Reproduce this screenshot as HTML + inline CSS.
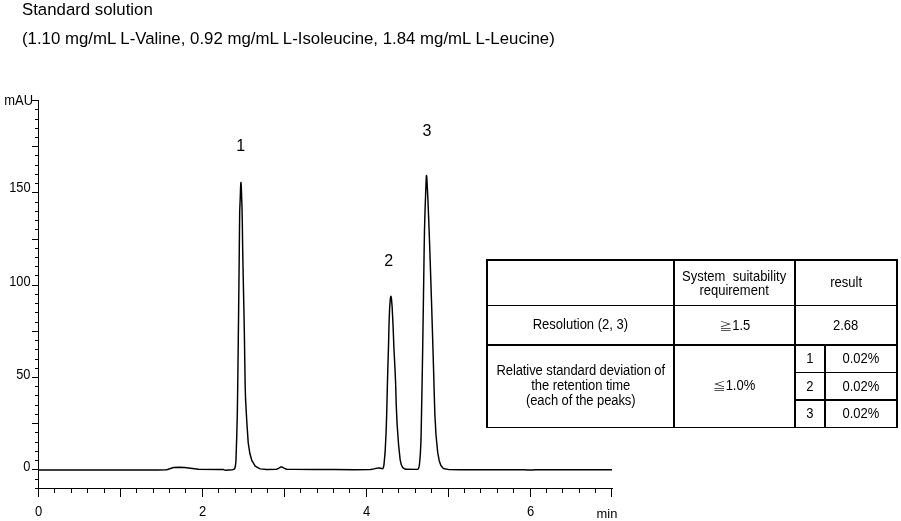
<!DOCTYPE html>
<html lang="en">
<head>
<meta charset="utf-8">
<title>Standard solution chromatogram</title>
<style>
html,body{margin:0;padding:0;background:#fff;}
body{width:901px;height:521px;position:relative;overflow:hidden;font-family:"Liberation Sans","Noto Sans CJK JP",sans-serif;color:#000;}
.title{position:absolute;left:21.6px;white-space:nowrap;font-size:16.3px;transform:scaleX(1.0317);line-height:20px;margin:0;font-weight:normal;transform-origin:0 0;}
#t1{top:-1px;}
#t2{top:28.1px;}
svg{position:absolute;left:0;top:0;}
svg text{font-family:"Liberation Sans","Noto Sans CJK JP",sans-serif;font-size:13.33px;fill:#000;}
svg text.pk{font-size:16px;}
svg text.yl{font-size:14px;}
table{position:absolute;left:486px;top:259px;border-collapse:separate;border-spacing:0;border-top:2px solid #000;border-left:2px solid #000;font-size:14px;line-height:15px;table-layout:fixed;width:412px;}
td,th{padding:0;margin:0;text-align:center;vertical-align:middle;font-weight:normal;border-right:2px solid #000;border-bottom:2px solid #000;box-sizing:content-box;white-space:nowrap;}
.b1{border-bottom-width:1px;}
.sym{color:#222;display:inline-block;transform:scaleY(0.743);transform-origin:50% 72%;}
.u{position:relative;top:-1px;display:inline-block;transform:scaleX(0.9286);}
</style>
</head>
<body>
<h1 class="title" id="t1">Standard solution</h1>
<p class="title" id="t2">(1.10 mg/mL L-Valine, 0.92 mg/mL L-Isoleucine, 1.84 mg/mL L-Leucine)</p>
<svg width="901" height="521" viewBox="0 0 901 521">
<g fill="#000" shape-rendering="crispEdges"><rect x="38" y="100" width="1" height="389"/><rect x="35" y="488" width="578" height="1"/><rect x="32" y="100" width="6" height="1"/><rect x="35" y="109" width="3" height="1"/><rect x="35" y="119" width="3" height="1"/><rect x="35" y="128" width="3" height="1"/><rect x="35" y="137" width="3" height="1"/><rect x="32" y="146" width="6" height="1"/><rect x="35" y="155" width="3" height="1"/><rect x="35" y="165" width="3" height="1"/><rect x="35" y="174" width="3" height="1"/><rect x="35" y="183" width="3" height="1"/><rect x="32" y="192" width="6" height="1"/><rect x="35" y="202" width="3" height="1"/><rect x="35" y="211" width="3" height="1"/><rect x="35" y="220" width="3" height="1"/><rect x="35" y="229" width="3" height="1"/><rect x="32" y="239" width="6" height="1"/><rect x="35" y="248" width="3" height="1"/><rect x="35" y="257" width="3" height="1"/><rect x="35" y="266" width="3" height="1"/><rect x="35" y="275" width="3" height="1"/><rect x="32" y="285" width="6" height="1"/><rect x="35" y="294" width="3" height="1"/><rect x="35" y="303" width="3" height="1"/><rect x="35" y="312" width="3" height="1"/><rect x="35" y="322" width="3" height="1"/><rect x="32" y="331" width="6" height="1"/><rect x="35" y="340" width="3" height="1"/><rect x="35" y="349" width="3" height="1"/><rect x="35" y="359" width="3" height="1"/><rect x="35" y="368" width="3" height="1"/><rect x="32" y="377" width="6" height="1"/><rect x="35" y="386" width="3" height="1"/><rect x="35" y="395" width="3" height="1"/><rect x="35" y="405" width="3" height="1"/><rect x="35" y="414" width="3" height="1"/><rect x="32" y="423" width="6" height="1"/><rect x="35" y="432" width="3" height="1"/><rect x="35" y="442" width="3" height="1"/><rect x="35" y="451" width="3" height="1"/><rect x="35" y="460" width="3" height="1"/><rect x="32" y="469" width="6" height="1"/><rect x="35" y="479" width="3" height="1"/><rect x="38" y="489" width="1" height="8"/><rect x="54" y="489" width="1" height="4"/><rect x="71" y="489" width="1" height="4"/><rect x="87" y="489" width="1" height="4"/><rect x="104" y="489" width="1" height="4"/><rect x="120" y="489" width="1" height="8"/><rect x="136" y="489" width="1" height="4"/><rect x="153" y="489" width="1" height="4"/><rect x="169" y="489" width="1" height="4"/><rect x="185" y="489" width="1" height="4"/><rect x="202" y="489" width="1" height="8"/><rect x="218" y="489" width="1" height="4"/><rect x="235" y="489" width="1" height="4"/><rect x="251" y="489" width="1" height="4"/><rect x="267" y="489" width="1" height="4"/><rect x="284" y="489" width="1" height="8"/><rect x="300" y="489" width="1" height="4"/><rect x="317" y="489" width="1" height="4"/><rect x="333" y="489" width="1" height="4"/><rect x="349" y="489" width="1" height="4"/><rect x="366" y="489" width="1" height="8"/><rect x="382" y="489" width="1" height="4"/><rect x="398" y="489" width="1" height="4"/><rect x="415" y="489" width="1" height="4"/><rect x="431" y="489" width="1" height="4"/><rect x="448" y="489" width="1" height="8"/><rect x="464" y="489" width="1" height="4"/><rect x="480" y="489" width="1" height="4"/><rect x="497" y="489" width="1" height="4"/><rect x="513" y="489" width="1" height="4"/><rect x="530" y="489" width="1" height="8"/><rect x="546" y="489" width="1" height="4"/><rect x="562" y="489" width="1" height="4"/><rect x="579" y="489" width="1" height="4"/><rect x="595" y="489" width="1" height="4"/><rect x="611" y="489" width="1" height="8"/></g>
<path d="M38.00 469.90 L62.00 469.90 L86.00 469.90 L110.00 469.90 L134.00 469.90 L158.00 469.90 L166.00 469.76 L167.50 469.45 L173.50 467.55 L179.00 467.20 L184.50 467.41 L198.50 469.23 L218.50 469.43 L223.00 469.50 L223.50 469.58 L225.00 470.13 L225.50 470.20 L232.50 469.67 L234.00 469.30 L234.60 468.80 L234.90 468.14 L235.40 465.97 L235.80 462.64 L236.00 459.54 L236.70 437.60 L237.30 415.02 L237.70 388.10 L238.00 363.86 L238.30 338.57 L238.60 312.75 L238.90 286.43 L239.20 259.29 L239.50 227.79 L239.70 211.00 L240.30 196.50 L240.60 187.00 L240.80 183.46 L240.90 182.45 L241.00 182.45 L241.30 187.00 L242.00 207.50 L242.30 222.04 L242.60 243.65 L243.00 266.31 L243.50 290.64 L244.00 314.47 L244.40 335.78 L244.80 362.69 L245.20 387.19 L245.60 399.90 L246.80 421.82 L248.20 442.62 L249.80 453.25 L251.90 460.73 L255.20 466.01 L260.10 468.89 L266.50 469.48 L276.00 469.39 L276.50 469.30 L278.50 468.40 L280.50 467.16 L281.00 466.96 L281.50 466.90 L282.00 467.02 L282.50 467.25 L284.00 468.16 L286.00 469.00 L287.00 469.27 L294.00 469.38 L314.00 469.40 L334.00 469.41 L354.00 469.66 L370.50 469.48 L372.00 469.34 L376.00 468.35 L378.50 468.03 L379.50 468.01 L382.60 468.70 L382.80 468.60 L383.40 467.50 L384.00 464.50 L385.10 452.17 L386.10 432.42 L386.80 410.00 L387.30 388.32 L387.90 366.38 L388.50 346.20 L389.00 324.93 L389.60 308.70 L390.30 299.13 L390.70 296.74 L390.80 296.42 L390.90 296.30 L391.00 296.42 L391.40 298.30 L392.10 306.07 L393.10 326.72 L393.90 347.70 L395.00 369.02 L395.60 382.80 L396.20 404.04 L397.10 424.12 L398.60 445.01 L400.10 459.36 L401.30 464.79 L402.70 467.68 L405.50 469.31 L417.60 469.40 L418.00 469.13 L418.60 468.20 L419.00 466.96 L419.50 464.22 L420.40 453.08 L421.00 439.90 L421.50 415.00 L421.90 393.87 L422.30 371.68 L422.70 347.69 L423.10 321.52 L423.50 295.00 L423.80 274.11 L424.10 252.83 L424.50 230.00 L425.10 208.61 L425.90 186.53 L426.30 177.08 L426.40 175.92 L426.50 175.50 L426.60 175.73 L426.80 177.44 L427.90 199.16 L428.70 219.17 L429.50 241.03 L430.20 261.38 L430.90 282.64 L431.60 304.38 L432.30 326.88 L433.00 349.99 L433.60 370.56 L434.20 392.85 L434.90 415.00 L436.00 434.98 L437.70 452.40 L439.20 460.74 L440.90 465.58 L443.40 468.44 L449.00 469.65 L460.00 469.80 L472.00 469.78 L480.00 469.60 L488.00 469.78 L508.00 469.80 L524.00 469.80 L528.00 469.99 L532.00 469.99 L536.00 469.80 L560.00 469.80 L584.00 469.80 L608.00 469.80 L612.00 469.80" fill="none" stroke="#000" stroke-width="1.45" stroke-linejoin="round" stroke-linecap="butt"/>
<text class="yl" transform="translate(4.3 104.8) scale(0.925 1)">mAU</text>
<text class="yl" transform="translate(30.5 192.1) scale(0.915 1)" text-anchor="end">150</text><text class="yl" transform="translate(30.5 285.8) scale(0.915 1)" text-anchor="end">100</text><text class="yl" transform="translate(30.5 378.8) scale(0.915 1)" text-anchor="end">50</text><text class="yl" transform="translate(30.5 470.8) scale(0.915 1)" text-anchor="end">0</text>
<text class="yl" transform="translate(38.6 515.7) scale(0.93 1)" text-anchor="middle">0</text><text class="yl" transform="translate(202.6 515.7) scale(0.93 1)" text-anchor="middle">2</text><text class="yl" transform="translate(366.6 515.7) scale(0.93 1)" text-anchor="middle">4</text><text class="yl" transform="translate(530.6 515.7) scale(0.93 1)" text-anchor="middle">6</text>
<text transform="translate(596.6 517.7) scale(0.967 1)">min</text>
<text class="pk" x="240.6" y="150.7" text-anchor="middle">1</text>
<text class="pk" x="388.8" y="265.8" text-anchor="middle">2</text>
<text class="pk" x="427" y="135.6" text-anchor="middle">3</text>
</svg>
<table>
<colgroup><col style="width:187px"><col style="width:121px"><col style="width:30px"><col style="width:72px"></colgroup>
<tr><th class="b1" style="height:44px"></th><th class="b1" style="line-height:14px;"><span class="u" style="top:-0.3px"><span style="word-spacing:4px">System suitability</span><br>requirement</span></th><th class="b1" colspan="2"><span class="u" style="top:-1px">result</span></th></tr>
<tr><td style="height:38px"><span class="u" style="top:-0.6px">Resolution (2, 3)</span></td><td><span class="u" style="top:0px"><span class="sym">≧</span>1.5</span></td><td colspan="2"><span class="u" style="top:0px">2.68</span></td></tr>
<tr><td rowspan="3" class="b1"><span class="u" style="top:-1.4px;letter-spacing:-0.1px">Relative standard deviation of<br>the retention time<br>(each of the peaks)</span></td><td rowspan="3" class="b1"><span class="u" style="top:-1.5px;left:-0.8px"><span class="sym">≦</span>1.0%</span></td><td class="b1" style="height:26px"><span class="u" style="top:-0.8px">1</span></td><td class="b1"><span class="u" style="top:-0.8px">0.02%</span></td></tr>
<tr><td style="height:26px"><span class="u" style="top:0.8px">2</span></td><td><span class="u" style="top:0.8px">0.02%</span></td></tr>
<tr><td class="b1" style="height:26px"><span class="u" style="top:-1px">3</span></td><td class="b1"><span class="u" style="top:-1px">0.02%</span></td></tr>
</table>
</body>
</html>
